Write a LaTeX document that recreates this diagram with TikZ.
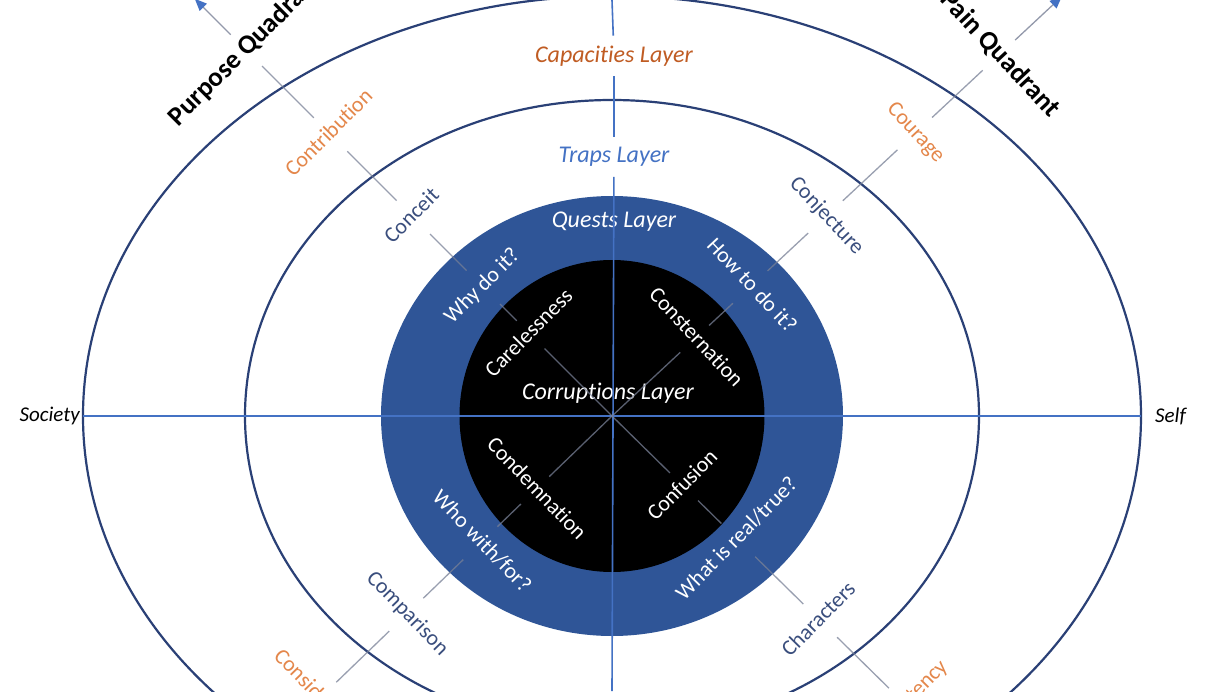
\documentclass[tikz,border=0pt]{standalone}
\usepackage{fontspec}
\setmainfont{Carlito}[Ligatures=NoCommon]
\usetikzlibrary{arrows.meta}

\definecolor{ringline}{RGB}{42,64,118}
\definecolor{axisblue}{RGB}{68,114,196}
\definecolor{questblue}{RGB}{47,85,151}
\definecolor{capdark}{RGB}{192,92,35}
\definecolor{caplight}{RGB}{228,135,75}
\definecolor{trapblue}{RGB}{58,78,125}
\definecolor{diaggray}{RGB}{120,128,150}

\begin{document}
\begin{tikzpicture}[
  x=1pt, y=1pt,
  font=\fontsize{22}{26}\selectfont,
  lbl/.style={inner xsep=2pt, inner ysep=14pt, text height=14pt, text depth=5pt},
  capnode/.style={lbl, text=caplight},
  trapnode/.style={lbl, text=trapblue},
  questnode/.style={lbl, text=white},
  corrnode/.style={lbl, text=white, inner ysep=10pt},
  quadnode/.style={lbl, font=\fontsize{27}{32}\selectfont\bfseries, text=black,
               text height=18pt, text depth=6pt, inner ysep=10pt},
  ttl/.style={font=\fontsize{24}{28}\selectfont\itshape, inner xsep=2pt, inner ysep=10pt},
  side/.style={font=\fontsize{21}{25}\selectfont\itshape, text=black},
  ring/.style={draw=ringline, line width=2.2pt},
  axis/.style={draw=axisblue, line width=1.6pt},
  dline/.style={draw=diaggray, draw opacity=.75, line width=1.3pt},
  qarr/.style={draw=diaggray!80, line width=1.3pt,
               -{Triangle[length=12pt, width=10pt, color=axisblue]}},
]
\useasboundingbox (-612,-275) rectangle (618,416);
\clip (-612,-275) rectangle (618,416);
\fill[white] (-612,-275) rectangle (618,416);

\coordinate (c) at (0,0);
\coordinate (vtop) at (0,416);
\coordinate (vbot) at (0,-275);

% layers
\draw[ring] (c) ellipse [x radius=529pt, y radius=420pt];
\draw[ring] (c) ellipse [x radius=367pt, y radius=316pt];
\fill[questblue] (c) ellipse [x radius=231pt, y radius=220pt];
\fill[black] (c) ellipse [x radius=152.5pt, y radius=156pt];

% layer titles
\node[ttl, text=capdark, fill=white] (capac) at (2,360) {Capacities Layer};
\node[ttl, text=axisblue, fill=white] (traps) at (2,259) {Traps Layer};
\node[ttl, text=white] (quests) at (2,194) {Quests Layer};
\node[ttl, text=white] (corrupt) at (-4,23) {Corruptions Layer};

\node[side, anchor=east, inner xsep=3pt] (society) at (-529,0) {Society};
\node[side, anchor=west, inner xsep=14pt] (self) at (529,0) {Self};

% purpose quadrant (upper left)
\node[corrnode, rotate=45] (carel) at (135:115) {Carelessness};
\node[questnode, rotate=45] (why) at (135:182) {Why do it?};
\node[trapnode, rotate=45] (conceit) at (135:281) {Conceit};
\node[capnode, rotate=45] (contrib) at (135:398) {Contribution};
\node[quadnode, rotate=45] (purpose) at (135:517) {Purpose Quadrant};
\coordinate (purposetip) at (135:590);

% pain quadrant (upper right)
\node[corrnode, rotate=-47] (constern) at (43:113) {Consternation};
\node[questnode, rotate=-47] (howto) at (43:189) {How to do it?};
\node[trapnode, rotate=-47] (conject) at (43:292) {Conjecture};
\node[capnode, rotate=-47] (courage) at (43:414) {Courage};
\node[quadnode, rotate=-47] (pain) at (43:529) {Pain Quadrant};
\coordinate (paintip) at (43:615);

% lower left
\node[corrnode, rotate=-46] (condemn) at (224:107) {Condemnation};
\node[questnode, rotate=-46] (whowith) at (224:183) {Who with/for?};
\node[trapnode, rotate=-46] (compar) at (224:286) {Comparison};
\node[capnode, rotate=-46] (consid) at (224:407) {Consideration};

% lower right
\node[corrnode, rotate=45.5] (confus) at (315.5:101) {Confusion};
\node[questnode, rotate=45.5] (whatis) at (315.5:177) {What is real/true?};
\node[trapnode, rotate=45.5] (charac) at (315.5:292) {Characters};
\node[capnode, rotate=45.5] (compet) at (315.5:412) {Competency};

% axes
\draw[axis] (vtop) -- (capac);
\draw[axis] (capac) -- (traps);
\draw[axis] (traps) -- (vbot);
\draw[axis] (society) -- (self);

% diagonals
\draw[dline] (c) -- (carel);
\draw[dline] (carel) -- (why);
\draw[dline] (why) -- (conceit);
\draw[dline] (conceit) -- (contrib);
\draw[dline] (contrib) -- (purpose);
\draw[qarr] (purpose) -- (purposetip);

\draw[dline] (c) -- (constern);
\draw[dline] (constern) -- (howto);
\draw[dline] (howto) -- (conject);
\draw[dline] (conject) -- (courage);
\draw[dline] (courage) -- (pain);
\draw[qarr] (pain) -- (paintip);

\draw[dline] (c) -- (condemn);
\draw[dline] (condemn) -- (whowith);
\draw[dline] (whowith) -- (compar);
\draw[dline] (compar) -- (consid);

\draw[dline] (c) -- (confus);
\draw[dline] (confus) -- (whatis);
\draw[dline] (whatis) -- (charac);
\draw[dline] (charac) -- (compet);
\end{tikzpicture}
\end{document}
